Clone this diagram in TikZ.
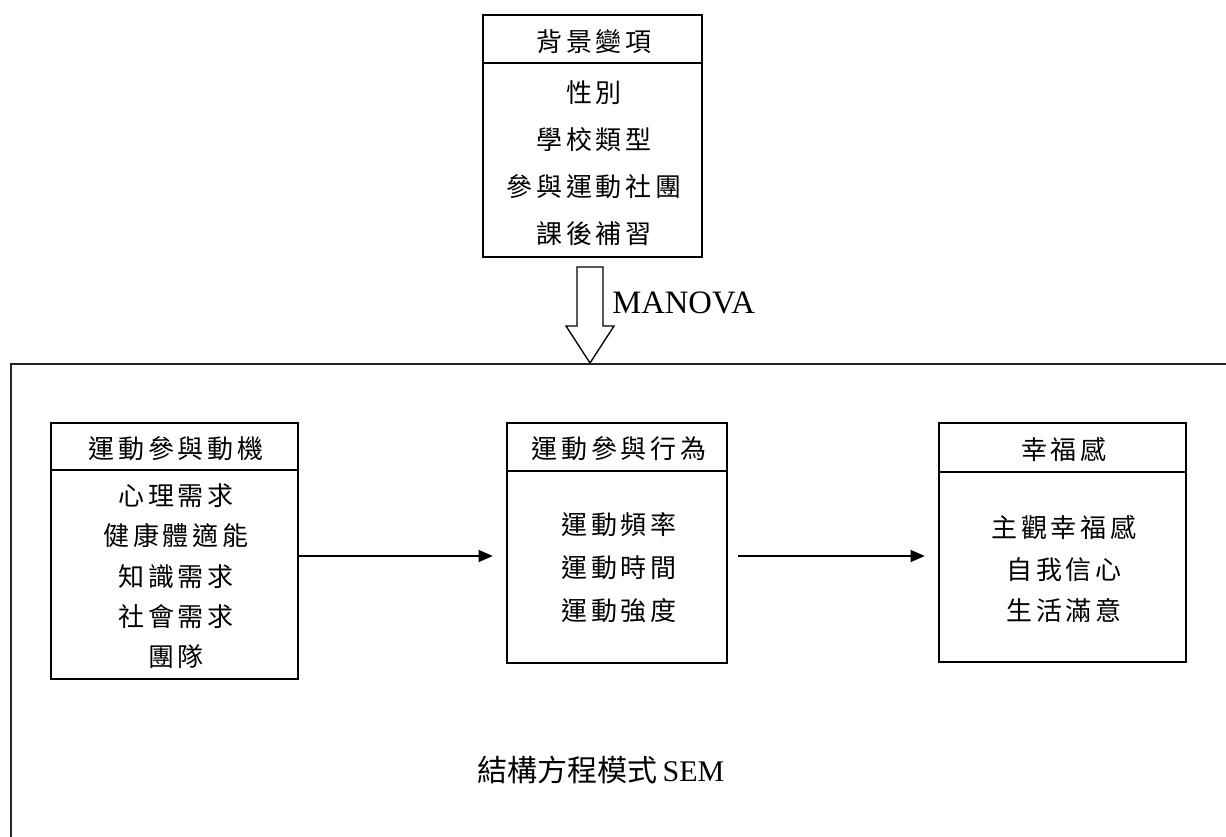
\documentclass[tikz,border=0pt]{standalone}
\usepackage{fontspec}
\setmainfont{Liberation Serif}
\newfontfamily\cjkls[LetterSpace=14]{Noto Sans CJK TC}
\newfontfamily\cjkn{Noto Sans CJK TC}
\usetikzlibrary{arrows.meta}
\newcommand\boxfont{\cjkls\fontsize{19.5pt}{23pt}\selectfont}
\begin{document}
\begin{tikzpicture}[x=0.75pt,y=-0.75pt]
\tikzset{
  box/.style={draw, line width=1.5pt, inner sep=0pt, rectangle},
  cj/.style={font=\boxfont, text height=0.8em, text depth=0.12em, inner sep=0pt, yshift=-4.5pt},
  link/.style={line width=0.9pt, -{Triangle[length=10.5pt,width=9pt]}},
  hdr/.style={line width=1.5pt},
}
\useasboundingbox (0,0) rectangle (1226,836);
\clip (0,0) rectangle (1226,836);
% big SEM frame (extends beyond picture)
\draw[line width=1.3pt, draw=black!85] (11,364) rectangle (1260,870);

% top box
\node[box, minimum width=164.25pt, minimum height=181.5pt] (T) at (592.5,136) {};
\coordinate (th) at (0,63);
\draw[hdr] (T.west |- th) -- (T.east |- th);
\node[cj] (T0) at (594,41) {背景變項};
\foreach \t [count=\i] in {性別,學校類型,參與運動社團,課後補習}
  \node[cj] (T\i) at (594,{92+47*(\i-1)}) {\t};

% block arrow
\draw[line width=1pt] (577,267) -- (603,267) -- (603,326) -- (614,326) -- (590,363) -- (566,326) -- (577,326) -- cycle;
\node[anchor=west, inner sep=0pt, font=\fontsize{24.5pt}{28pt}\selectfont] (mv) at (612,303) {MANOVA};

% left box
\node[box, minimum width=185.25pt, minimum height=192pt] (L) at (174.5,551) {};
\coordinate (lh) at (0,470);
\draw[hdr] (L.west |- lh) -- (L.east |- lh);
\node[cj] (L0) at (176,448) {運動參與動機};
\foreach \t [count=\i] in {心理需求,健康體適能,知識需求,社會需求,團隊}
  \node[cj] (L\i) at (176,{495+40.3*(\i-1)}) {\t};

% middle box
\node[box, minimum width=165pt, minimum height=180pt] (M) at (617,543) {};
\coordinate (mh) at (0,471);
\draw[hdr] (M.west |- mh) -- (M.east |- mh);
\node[cj] (M0) at (619,448) {運動參與行為};
\foreach \t [count=\i] in {運動頻率,運動時間,運動強度}
  \node[cj] (M\i) at (619,{524+43*(\i-1)}) {\t};

% right box
\node[box, minimum width=185.25pt, minimum height=179.25pt] (R) at (1062.5,542.5) {};
\coordinate (rh) at (0,472);
\draw[hdr] (R.west |- rh) -- (R.east |- rh);
\node[cj] (R0) at (1064,449) {幸福感};
\foreach \t [count=\i] in {主觀幸福感,自我信心,生活滿意}
  \node[cj] (R\i) at (1064,{527+41.5*(\i-1)}) {\t};

% connectors
\coordinate (ay) at (0,556);
\draw[link, shorten >=10pt] (L.east |- ay) -- (M.west |- ay);
\draw[link, shorten <=7.5pt, shorten >=10pt] (M.east |- ay) -- (R.west |- ay);

% SEM label
\node[inner sep=0pt, font=\fontsize{22.5pt}{26pt}\selectfont] (sem) at (601,770) {{\cjkn 結構方程模式}\,SEM};
\end{tikzpicture}
\end{document}
